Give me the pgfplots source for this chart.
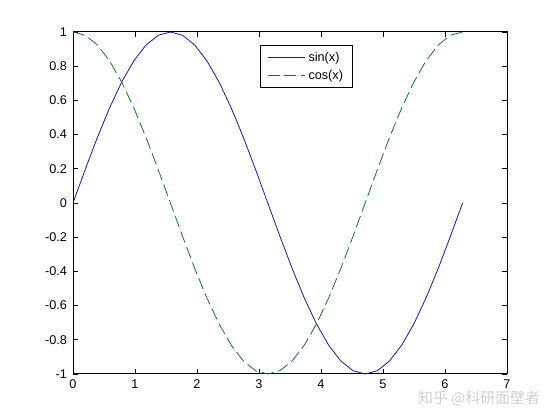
\documentclass[border=0pt]{standalone}
\usepackage{fontspec}
\setmainfont{Liberation Sans}
\newfontfamily\cjk{Noto Sans CJK SC}
\usepackage{pgfplots}
\pgfplotsset{compat=1.18}
\definecolor{sinblue}{rgb}{0.1,0.1,0.6}
\definecolor{cosgreen}{rgb}{0.1,0.45,0.15}
\begin{document}
\begin{tikzpicture}
\path[use as bounding box] (0,0) rectangle (420pt,315pt);
\begin{axis}[
  at={(54.75pt,34.5pt)}, anchor=south west,
  scale only axis,
  width=325.5pt, height=256.5pt,
  xmin=0, xmax=7, ymin=-1, ymax=1,
  xtick={0,1,2,3,4,5,6,7},
  ytick={-1,-0.8,-0.6,-0.4,-0.2,0,0.2,0.4,0.6,0.8,1},
  yticklabels={-1,-0.8,-0.6,-0.4,-0.2,0,0.2,0.4,0.6,0.8,1},
  tick align=inside,
  major tick length=3.5pt,
  tick style={black, line width=0.6pt},
  axis line style={line width=0.75pt},
  ticklabel style={font=\fontsize{9.5pt}{11pt}\selectfont},
  /pgf/number format/assume math mode=true,
  xticklabel style={yshift=-1pt},
  yticklabel style={xshift=-1pt},
  clip=false,
  legend style={at={(0.431,0.962)}, anchor=north west, draw=black, line width=0.6pt,
    font=\fontsize{9.5pt}{11pt}\selectfont, inner xsep=5pt, inner ysep=3pt,
    row sep=1pt, cells={anchor=west}},
  legend image code/.code={\draw[#1] (0cm,0cm) -- (1cm,0cm);},
]
\addplot[sinblue, line width=0.6pt] coordinates {
(0,0) (0.1963,0.1951) (0.3927,0.3827) (0.5890,0.5556) (0.7854,0.7071)
(0.9817,0.8315) (1.1781,0.9239) (1.3744,0.9808) (1.5708,1) (1.7671,0.9808)
(1.9635,0.9239) (2.1598,0.8315) (2.3562,0.7071) (2.5525,0.5556) (2.7489,0.3827)
(2.9452,0.1951) (3.1416,0) (3.3379,-0.1951) (3.5343,-0.3827) (3.7306,-0.5556)
(3.9270,-0.7071) (4.1233,-0.8315) (4.3197,-0.9239) (4.5160,-0.9808) (4.7124,-1)
(4.9087,-0.9808) (5.1051,-0.9239) (5.3014,-0.8315) (5.4978,-0.7071) (5.6941,-0.5556)
(5.8905,-0.3827) (6.0868,-0.1951) (6.2832,0)};
\addplot[cosgreen, line width=0.6pt, dash pattern=on 9pt off 3.5pt] coordinates {
(0,1) (0.1963,0.9808) (0.3927,0.9239) (0.5890,0.8315) (0.7854,0.7071)
(0.9817,0.5556) (1.1781,0.3827) (1.3744,0.1951) (1.5708,0) (1.7671,-0.1951)
(1.9635,-0.3827) (2.1598,-0.5556) (2.3562,-0.7071) (2.5525,-0.8315) (2.7489,-0.9239)
(2.9452,-0.9808) (3.1416,-1) (3.3379,-0.9808) (3.5343,-0.9239) (3.7306,-0.8315)
(3.9270,-0.7071) (4.1233,-0.5556) (4.3197,-0.3827) (4.5160,-0.1951) (4.7124,0)
(4.9087,0.1951) (5.1051,0.3827) (5.3014,0.5556) (5.4978,0.7071) (5.6941,0.8315)
(5.8905,0.9239) (6.0868,0.9808) (6.2832,1)};
\legend{sin(x),cos(x)}
\end{axis}
\node[text=black!18, font=\cjk\fontsize{11.2pt}{13pt}\selectfont] at (359.25pt,16.5pt) {知乎 @科研面壁者};
\end{tikzpicture}
\end{document}
